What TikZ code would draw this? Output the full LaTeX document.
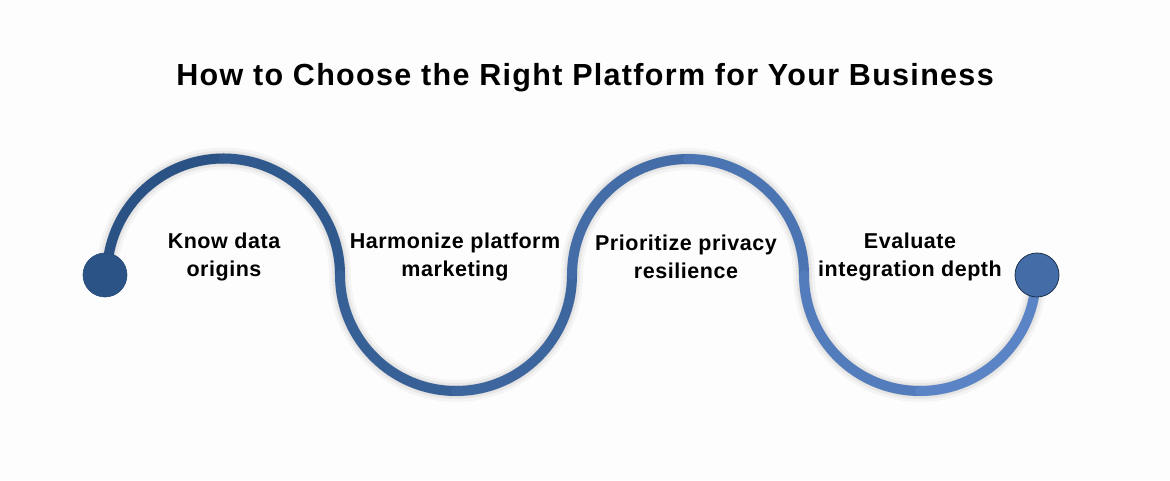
\documentclass[tikz,border=0pt]{standalone}
\usepackage{fontspec}
\setmainfont{Liberation Sans}
\newfontfamily\titlefont[LetterSpace=4.3]{Liberation Sans}
\newfontfamily\labelfont[LetterSpace=2.5]{Liberation Sans}
\usetikzlibrary{calc}
\definecolor{wavedark}{HTML}{2A5284}
\definecolor{wavelight}{HTML}{5A84C6}
\definecolor{bgcol}{HTML}{FDFDFE}
\tikzset{
  wave/.style={line width=10pt, line cap=round},
  dot/.style={circle, minimum size=44pt, inner sep=0pt},
  label/.style={font=\labelfont\bfseries\fontsize{21.5}{28}\selectfont, align=center, text=black},
  title/.style={font=\titlefont\bfseries\fontsize{30.5}{34}\selectfont, text=black}
}
\begin{document}
\begin{tikzpicture}[x=1pt,y=1pt]
\fill[bgcol] (0,0) rectangle (1170,480);
\useasboundingbox (0,0) rectangle (1170,480);
\coordinate (s) at (107,205);
\coordinate (e) at (1036,205);
% shadow
\foreach \w/\o in {22/0.035,16/0.05,11/0.08}{
  \draw[line width=\w pt, black, opacity=\o, shift={(3,-6)}]
    (s) arc[start angle=180,end angle=0,radius=116.5]
        arc[start angle=180,end angle=360,radius=116]
        arc[start angle=180,end angle=0,radius=116]
        arc[start angle=180,end angle=360,radius=116];
}
% wave
\foreach \cx/\a/\b/\p in {223.5/180/90/100, 223.5/90/0/87, 456/180/270/73, 456/270/360/60, 688/180/90/45, 688/90/0/31, 920/180/270/16, 920/270/360/0}{
  \draw[wave, draw=wavedark!\p!wavelight] ($(\cx,205)+(\a:\ifdim\cx pt<300pt 116.5\else 116\fi)$) arc[start angle=\a, end angle=\b, radius=\ifdim\cx pt<300pt 116.5\else 116\fi];
}
\node[dot, fill=wavedark!98!wavelight, draw=wavedark!90!black, line width=0.6pt] (start) at (105,205) {};
\node[dot, fill=wavedark!45!wavelight, draw=wavedark!60!black, line width=0.8pt] (end) at (1037,205) {};
\node[title] (t) at (585,402) {How to Choose the Right Platform for Your Business};
\node[label] (l1) at (224,223) {Know data\\origins};
\node[label] (l2) at (455,223) {Harmonize platform\\marketing};
\node[label] (l3) at (686,223) {Prioritize privacy\\resilience};
\node[label] (l4) at (910,223) {Evaluate\\integration depth};
\end{tikzpicture}
\end{document}
